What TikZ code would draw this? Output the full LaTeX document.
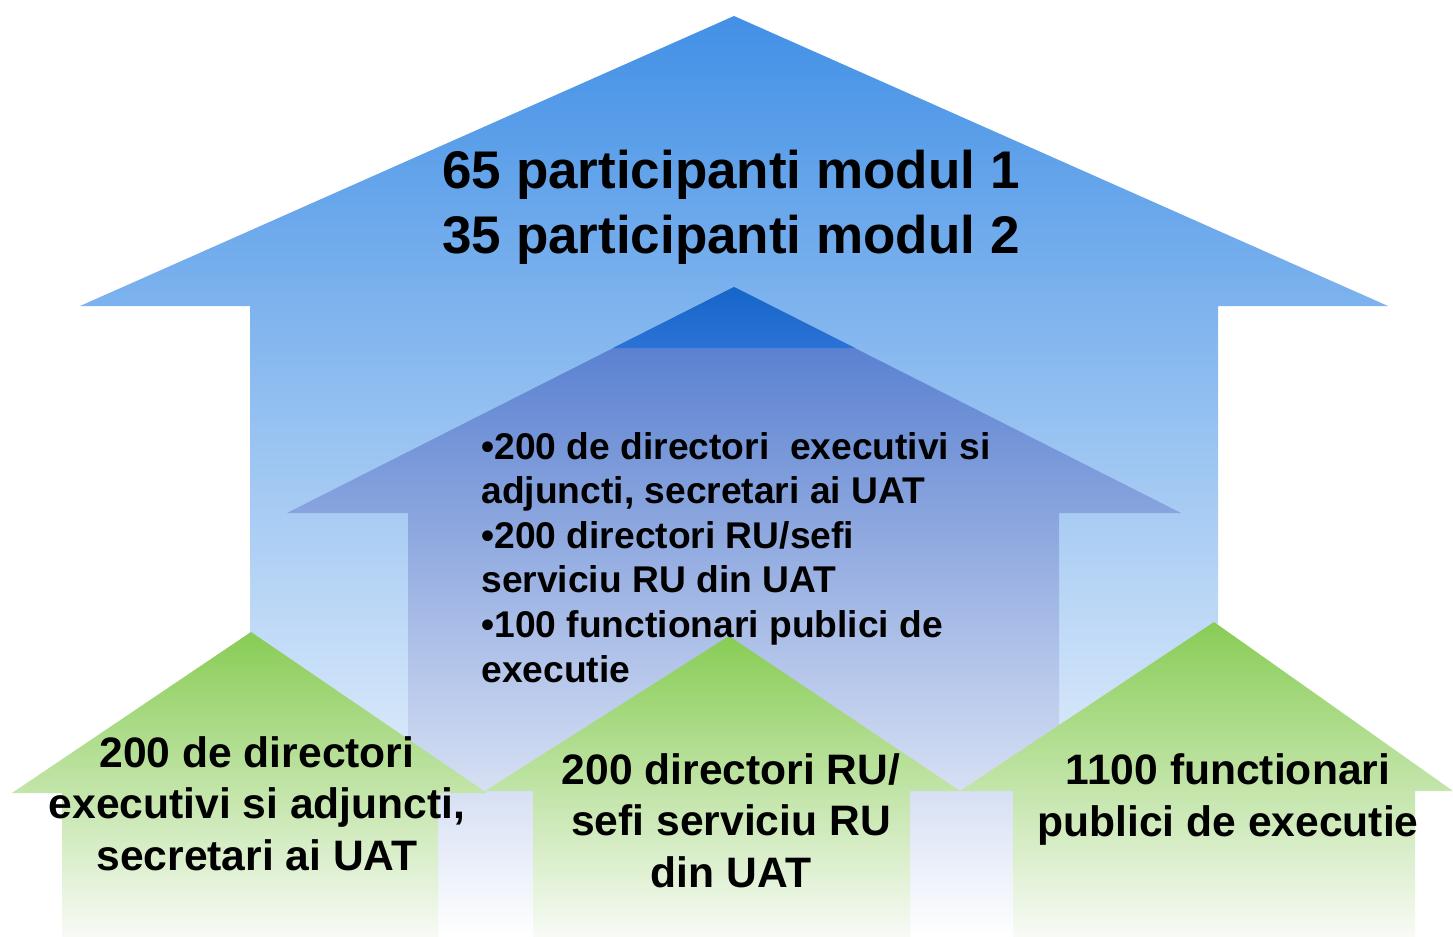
\documentclass[tikz,border=0pt]{standalone}
\usepackage{fontspec}
\setmainfont{Liberation Sans}
\usepackage{xcolor}
\definecolor{topblue}{HTML}{4290E6}
\definecolor{midblue}{HTML}{4A74CC}
\definecolor{midpale}{HTML}{A9B6E2}
\definecolor{tipblue}{HTML}{1565C8}
\definecolor{tipblue2}{HTML}{2C72D6}
\definecolor{leafgreen}{HTML}{88CC55}
\definecolor{fadegreen}{HTML}{F8FBF6}

\tikzset{
  bigtxt/.style={font=\fontsize{26.5}{32.5}\selectfont\bfseries, align=center, inner sep=0pt, anchor=base},
  listtxt/.style={font=\fontsize{18.6}{22.3}\selectfont\bfseries, align=left, inner sep=0pt, anchor=base west},
  basetxt/.style={font=\fontsize{21.3}{25.6}\selectfont\bfseries, align=center, inner sep=0pt, anchor=base},
  greenarrow/.style={top color=leafgreen, bottom color=fadegreen}
}

\begin{document}
\begin{tikzpicture}[x=0.5pt,y=-0.5pt]
    \useasboundingbox (0,0) rectangle (1453,937);

    % big arrow
    \coordinate (top_tip) at (734,16);
    \shade[top color=topblue, bottom color=white]
      (top_tip) -- (1388,306) -- (1218,306) -- (1218,937)
      -- (250,937) -- (250,306) -- (80,306) -- cycle;

    % inner arrow
    \coordinate (mid_tip) at (734,287);
    \shade[top color=midblue, middle color=midpale, bottom color=white]
      (mid_tip) -- (1181,513) -- (1059,513) -- (1059,937)
      -- (408,937) -- (408,513) -- (287,513) -- cycle;
    \shade[top color=tipblue, bottom color=tipblue2]
      (mid_tip) -- (855,348) -- (613,348) -- cycle;

    % green arrows
    \shade[greenarrow] (251,632) -- (487,793) -- (438,793) -- (438,937)
      -- (62,937) -- (62,793) -- (12,793) -- cycle;
    \shade[greenarrow] (729,636) -- (960,791) -- (910,791) -- (910,937)
      -- (533,937) -- (533,791) -- (485,791) -- cycle;
    \shade[greenarrow] (1214,622) -- (1453,791) -- (1415,791) -- (1415,937)
      -- (1013,937) -- (1013,791) -- (960,791) -- cycle;

    % texts (base = last line)
    \node[bigtxt] (modules) at (731,253) {65 participanti modul 1\\35 participanti modul 2};
    \node[listtxt] (targets) at (481,682) {•200 de directori\ \ executivi si\\adjuncti, secretari ai UAT\\•200 directori RU/sefi\\serviciu RU din UAT\\•100 functionari publici de\\executie};
    \node[basetxt] (directors) at (257,870) {200 de directori\\executivi si adjuncti,\\secretari ai UAT};
    \node[basetxt] (hrheads) at (731,887) {200 directori RU/\\sefi serviciu RU\\din UAT};
    \node[basetxt] (officers) at (1228,836) {1100 functionari\\publici de executie};
\end{tikzpicture}
\end{document}
